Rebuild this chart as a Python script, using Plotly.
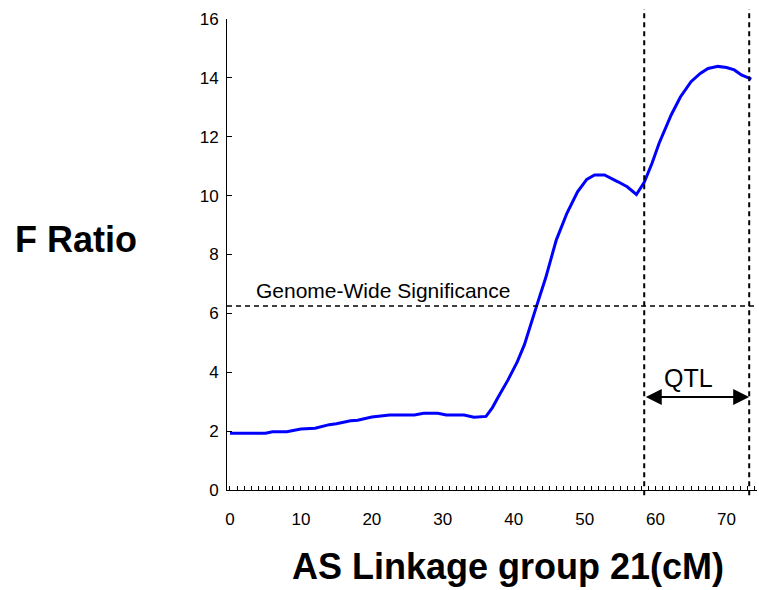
import plotly.graph_objects as go

# Map position along linkage group 21 (cM) and the F ratio at each point
position_cm = [0, 2, 5, 6, 8, 10, 12, 14, 15, 17, 18, 20, 21, 22.5, 26, 27.3,
               29.3, 30.5, 33, 34.4, 36.1, 37.0, 37.8, 39.2, 40.5, 41.5, 43.2,
               44.5, 46, 47.5, 49, 50.3, 51.4, 52.8, 54.7, 56, 57.3, 58.4, 59.5,
               60.5, 62.2, 63.5, 65, 66.3, 67.4, 68.8, 70, 71.1, 72.1, 73.5]
f_ratio = [1.93, 1.93, 1.93, 1.98, 1.98, 2.07, 2.10, 2.22, 2.25, 2.35, 2.37,
           2.48, 2.50, 2.55, 2.55, 2.61, 2.61, 2.55, 2.55, 2.47, 2.50, 2.80,
           3.15, 3.74, 4.35, 4.93, 6.23, 7.20, 8.49, 9.40, 10.13, 10.55, 10.70,
           10.70, 10.47, 10.30, 10.04, 10.45, 11.10, 11.78, 12.74, 13.35, 13.87,
           14.15, 14.32, 14.39, 14.35, 14.27, 14.10, 13.96]

significance_threshold = 6.25
qtl_start, qtl_end = 58.4, 73.2
qtl_arrow_level = 3.16

x_tick_values = [0, 10, 20, 30, 40, 50, 60, 70]
y_tick_values = [0, 2, 4, 6, 8, 10, 12, 14, 16]

FONT = "Liberation Sans, Arial, sans-serif"

fig = go.Figure()
fig.add_trace(go.Scatter(
    x=position_cm, y=f_ratio, mode="lines",
    line=dict(color="#0000FF", width=3),
    showlegend=False, hoverinfo="skip",
))

dash = "5px,4px"
# Genome-wide significance threshold
fig.add_shape(type="line", xref="paper", yref="y", x0=0, x1=1,
              y0=significance_threshold, y1=significance_threshold,
              line=dict(color="black", width=1.6, dash=dash))
# QTL interval boundaries
for xv in (qtl_start, qtl_end):
    fig.add_shape(type="line", xref="x", yref="paper", x0=xv, x1=xv,
                  y0=-0.011, y1=1.021,
                  line=dict(color="black", width=2, dash=dash))

# Double-headed arrow spanning the QTL interval
fig.add_annotation(x=qtl_end, y=qtl_arrow_level, ax=qtl_start, ay=qtl_arrow_level,
                   xref="x", yref="y", axref="x", ayref="y", text="",
                   showarrow=True, arrowside="end+start", arrowhead=2,
                   arrowsize=1.6, arrowwidth=2, arrowcolor="black",
                   standoff=0, startstandoff=0)
fig.add_annotation(x=64.6, y=3.8, xref="x", yref="y",
                   text="QTL", showarrow=False,
                   font=dict(family=FONT, size=25, color="black"))
fig.add_annotation(x=21.6, y=6.78, xref="x", yref="y",
                   text="Genome-Wide Significance", showarrow=False,
                   font=dict(family=FONT, size=21, color="black"))

# Axis titles
fig.add_annotation(x=-0.285, y=0.531, xref="paper", yref="paper",
                   text="<b>F Ratio</b>", showarrow=False,
                   xanchor="center", yanchor="middle",
                   font=dict(family=FONT, size=36, color="black"))
fig.add_annotation(x=0.530, y=-0.163, xref="paper", yref="paper",
                   text="<b>AS Linkage group 21(cM)</b>", showarrow=False,
                   xanchor="center", yanchor="middle",
                   font=dict(family=FONT, size=36, color="black"))

fig.update_layout(
    width=759, height=590,
    margin=dict(l=227, r=2, t=19, b=100),
    paper_bgcolor="white", plot_bgcolor="white",
    font=dict(family=FONT, color="black"),
    xaxis=dict(
        range=[-0.42, 74.3], tickvals=x_tick_values,
        showline=True, linecolor="black", linewidth=1,
        ticks="inside", ticklen=4, tickcolor="black", tickwidth=1,
        minor=dict(dtick=1, tick0=0, ticks="inside", ticklen=4,
                   tickcolor="black", tickwidth=1),
        showgrid=False, zeroline=False,
        tickfont=dict(family=FONT, size=17, color="black"),
        ticklabelstandoff=14,
    ),
    yaxis=dict(
        range=[0, 16], tickvals=y_tick_values,
        showline=True, linecolor="black", linewidth=1,
        ticks="inside", ticklen=5, tickcolor="black", tickwidth=1,
        showgrid=False, zeroline=False,
        tickfont=dict(family=FONT, size=17, color="black"),
        ticklabelstandoff=4,
    ),
)

fig.write_html("out.html")
